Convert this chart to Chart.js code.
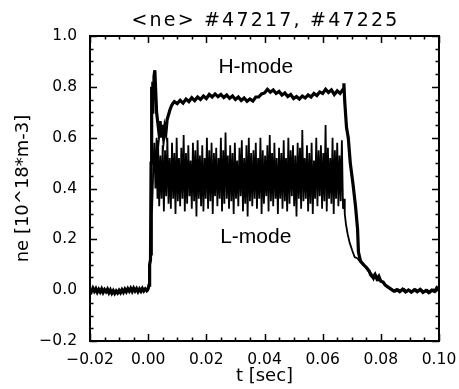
<!DOCTYPE html>
<html><head><meta charset="utf-8">
<script src="https://cdn.jsdelivr.net/npm/chart.js@4.4.0/dist/chart.umd.min.js"></script>
<style>html,body{margin:0;padding:0;background:#fff;}canvas{display:block;}</style>
</head><body>
<canvas id="c" width="459" height="389"></canvas>
<script>
const chartTitle = '<ne> #47217, #47225';
const xAxisTitle = 't [sec]';
const yAxisTitle = 'ne [10^18*m-3]';
const seriesNames = ['H-mode', 'L-mode'];
const xTickValues = [-0.02, 0.00, 0.02, 0.04, 0.06, 0.08, 0.10];
const xTickLabels = ['\u22120.02', '0.00', '0.02', '0.04', '0.06', '0.08', '0.10'];
const yTickValues = [-0.2, 0.0, 0.2, 0.4, 0.6, 0.8, 1.0];
const yTickLabels = ['\u22120.2', '0.0', '0.2', '0.4', '0.6', '0.8', '1.0'];
const xMinorStep = 0.005;
const yMinorStep = 0.05;

// H-mode shot: time in ms, density values
const hTimesMs = [
  -20,-19.5,-19,-18.5,-18,-17.5,-17,-16.5,-16,-15.5,-15,-14.5,-14,-13.5,-13,-12.5,-12,-11.5,-11,-10.5,
  -10,-9.5,-9,-8.5,-8,-7.5,-7,-6.5,-6,-5.5,-5,-4.5,-4,-3.5,-3,-2.5,-2,-1.5,-1,-0.5,0,
  0.3,0.5,0.8,1.0,1.2,1.4,1.6,1.8,2.0,2.3,2.6,2.9,3.3,3.7,4.1,4.5,4.9,5.3,5.7,6.1,6.5,7.0,7.5,8.0,8.5,
  9,10,11,12,13,14,15,16,17,18,19,20,21,22,23,24,25,26,27,28,29,30,31,32,33,34,35,36,37,38,
  39,40,41,42,43,44,45,46,47,48,49,50,51,52,53,54,55,56,57,58,59,60,61,62,63,64,65,66,67,
  67.3,67.6,68.2,68.8,69.5,70.4,71.3,72.0,72.3,73.0,
  74,75,76,76.5,77.3,78,78.6,79.3,80,80.8,81.5,82.5,83.5,84.5,85.5,86.5,87.5,88.5,89.5,90.5,
  91.5,92.5,93.5,94.5,95.5,96.5,97.5,98.5,99.3,100
];
const hValues = [
  0.004,-0.006,0.008,-0.004,0.006,-0.008,0.003,-0.007,0.005,-0.009,0.002,-0.006,0.004,-0.010,0.001,-0.012,-0.002,-0.013,-0.003,-0.011,
  -0.001,-0.010,0.002,-0.008,0.004,-0.006,0.006,-0.004,0.007,-0.005,0.008,-0.003,0.006,-0.006,0.005,-0.004,0.007,-0.003,0.005,-0.002,0.006,
  0.02,0.10,0.12,0.50,0.80,0.70,0.82,0.76,0.84,0.865,0.78,0.70,0.66,0.62,0.665,0.60,0.65,0.60,0.64,0.62,0.67,0.69,0.71,0.725,0.735,
  0.742,0.734,0.747,0.736,0.752,0.742,0.757,0.746,0.760,0.750,0.764,0.754,0.770,0.760,0.772,0.761,0.770,0.758,0.768,0.755,0.764,0.750,0.760,0.746,0.756,0.743,0.752,0.744,0.760,0.760,
  0.772,0.776,0.790,0.779,0.788,0.774,0.782,0.768,0.776,0.762,0.770,0.754,0.762,0.752,0.764,0.756,0.768,0.760,0.774,0.766,0.780,0.774,0.790,0.778,0.788,0.770,0.784,0.774,0.790,
  0.814,0.74,0.64,0.60,0.50,0.42,0.33,0.24,0.15,0.115,
  0.100,0.090,0.075,0.060,0.050,0.062,0.045,0.055,0.035,0.032,0.020,0.012,0.004,-0.004,0.002,-0.006,0.004,-0.007,0.001,-0.008,
  0.002,-0.006,0.003,-0.009,-0.001,-0.010,0.000,-0.005,0.010,0.004
];

// L-mode shot: time in ms, density values
const lTimesMs = [
  -20,-19,-18,-17,-16,-15,-14,-13,-12,-11,-10,-9,-8,-7,-6,-5,-4,-3,-2,-1,0,
  0.3,0.6,1.0,1.3,1.7,2.1,2.5,2.9,3.2,
  3.4,3.8,4.2,4.6,5.0,5.4,5.8,6.2,6.6,7.0,
  7.4,7.8,8.2,8.6,9.0,9.4,9.8,10.2,10.6,11.0,
  11.4,11.8,12.2,12.6,13.0,13.4,13.8,14.2,14.6,15.0,
  15.4,15.8,16.2,16.6,17.0,17.4,17.8,18.2,18.6,19.0,
  19.4,19.8,20.2,20.6,21.0,21.4,21.8,22.2,22.6,23.0,
  23.4,23.8,24.2,24.6,25.0,25.4,25.8,26.2,26.6,27.0,
  27.4,27.8,28.2,28.6,29.0,29.4,29.8,30.2,30.6,31.0,
  31.4,31.8,32.2,32.6,33.0,33.4,33.8,34.2,34.6,35.0,
  35.4,35.8,36.2,36.6,37.0,37.4,37.8,38.2,38.6,39.0,
  39.4,39.8,40.2,40.6,41.0,41.4,41.8,42.2,42.6,43.0,
  43.4,43.8,44.2,44.6,45.0,45.4,45.8,46.2,46.6,47.0,
  47.4,47.8,48.2,48.6,49.0,49.4,49.8,50.2,50.6,51.0,
  51.4,51.8,52.2,52.6,53.0,53.4,53.8,54.2,54.6,55.0,
  55.4,55.8,56.2,56.6,57.0,57.4,57.8,58.2,58.6,59.0,
  59.4,59.8,60.2,60.6,61.0,61.4,61.8,62.2,62.6,63.0,
  63.4,63.8,64.2,64.6,65.0,65.4,65.8,66.2,66.6,67.0,
  67.4,67.6,68.0,68.6,69.3,70.2,71,72,73,74,75,76,76.8,77.5,78.2,79,79.8,80.8,81.8,83,
  84,85,86,87,88,89,90,91,92,93,94,95,96,97,98,99,100
];
const lValues = [
  -0.003,0.006,-0.006,0.004,-0.008,0.003,-0.009,-0.002,-0.012,-0.004,-0.010,-0.001,-0.007,0.003,-0.005,0.005,-0.004,0.006,-0.003,0.004,0.000,
  0.03,0.10,0.14,0.30,0.45,0.58,0.40,0.60,0.36,
  0.59,0.33,0.53,0.36,0.57,0.31,0.55,0.37,0.60,0.34,
  0.52,0.32,0.58,0.36,0.54,0.30,0.60,0.35,0.52,0.33,
  0.56,0.36,0.61,0.31,0.54,0.34,0.57,0.37,0.51,0.32,
  0.58,0.35,0.55,0.29,0.59,0.36,0.53,0.33,0.57,0.31,
  0.52,0.36,0.60,0.32,0.55,0.35,0.58,0.30,0.54,0.37,
  0.56,0.33,0.52,0.36,0.60,0.31,0.55,0.34,0.62,0.36,
  0.53,0.32,0.57,0.35,0.54,0.30,0.58,0.36,0.51,0.33,
  0.56,0.37,0.59,0.31,0.52,0.34,0.57,0.29,0.60,0.35,
  0.54,0.33,0.55,0.36,0.58,0.32,0.52,0.36,0.60,0.30,
  0.55,0.34,0.53,0.37,0.57,0.31,0.61,0.35,0.54,0.33,
  0.58,0.36,0.52,0.30,0.56,0.36,0.54,0.32,0.59,0.35,
  0.52,0.31,0.60,0.34,0.55,0.37,0.57,0.33,0.53,0.29,
  0.58,0.36,0.56,0.32,0.63,0.35,0.52,0.36,0.57,0.31,
  0.54,0.34,0.58,0.30,0.51,0.36,0.60,0.33,0.55,0.37,
  0.57,0.32,0.54,0.35,0.65,0.31,0.56,0.36,0.52,0.34,
  0.60,0.30,0.55,0.36,0.58,0.33,0.53,0.35,0.59,0.32,
  0.36,0.30,0.26,0.22,0.186,0.155,0.13,0.125,0.11,0.105,0.085,0.07,0.065,0.042,0.058,0.038,0.04,0.028,0.018,0.008,
  0.000,-0.006,0.003,-0.004,0.005,-0.006,0.000,-0.007,0.004,-0.005,0.002,-0.008,0.001,-0.009,0.003,-0.004,0.012
];

// anchors (data units) for the in-plot mode labels
const modeLabelAnchors = [[0.037, 0.876], [0.037, 0.209]];

const toPoints = (ts, vs) => ts.map((t, i) => ({ x: t / 1000, y: vs[i] }));

const framePlugin = {
  id: 'frame',
  afterDraw(chart) {
    const { ctx, chartArea: a, scales: { x, y } } = chart;
    ctx.save();
    ctx.strokeStyle = '#000';
    ctx.lineWidth = 1.5;
    ctx.beginPath();
    for (let v = x.min; v <= x.max + 1e-9; v += xMinorStep) {
      const px = Math.round(x.getPixelForValue(v)) + 0.5;
      const major = xTickValues.some(t => Math.abs(t - v) < 1e-6);
      const len = major ? 7 : 3.5;
      ctx.moveTo(px, a.bottom); ctx.lineTo(px, a.bottom - len);
      ctx.moveTo(px, a.top); ctx.lineTo(px, a.top + len);
    }
    for (let v = y.min; v <= y.max + 1e-9; v += yMinorStep) {
      const py = Math.round(y.getPixelForValue(v)) + 0.5;
      const major = yTickValues.some(t => Math.abs(t - v) < 1e-6);
      const len = major ? 7 : 3.5;
      ctx.moveTo(a.left, py); ctx.lineTo(a.left + len, py);
      ctx.moveTo(a.right, py); ctx.lineTo(a.right - len, py);
    }
    ctx.stroke();
    ctx.lineWidth = 2;
    ctx.strokeRect(a.left, a.top, a.right - a.left, a.bottom - a.top);

    ctx.fillStyle = '#000';
    ctx.textAlign = 'center';
    ctx.textBaseline = 'middle';
    ctx.font = '21px "Liberation Sans", Arial, sans-serif';
    seriesNames.forEach((name, i) => {
      const [tx, ty] = modeLabelAnchors[i];
      ctx.fillText(name, x.getPixelForValue(tx), y.getPixelForValue(ty));
    });

    ctx.font = '19px "DejaVu Sans", sans-serif';
    if ('letterSpacing' in ctx) ctx.letterSpacing = '2.2px';
    ctx.fillText(chartTitle, (a.left + a.right) / 2 + 1, 21);
    ctx.restore();
  }
};

const tickFont = { family: 'DejaVu Sans', size: 15.5, weight: 'normal' };
const titleFont = { family: 'DejaVu Sans', size: 18, weight: 'normal' };

new Chart(document.getElementById('c'), {
  type: 'line',
  data: {
    datasets: [
      { label: seriesNames[1], data: toPoints(lTimesMs, lValues), borderColor: '#000', borderWidth: 1.8, pointRadius: 0, tension: 0, fill: false },
      { label: seriesNames[0], data: toPoints(hTimesMs, hValues), borderColor: '#000', borderWidth: 3.2, pointRadius: 0, tension: 0, fill: false }
    ]
  },
  options: {
    responsive: false,
    animation: false,
    devicePixelRatio: 1,
    layout: { padding: { top: 36, right: 20, left: 0, bottom: 0 } },
    plugins: { legend: { display: false }, tooltip: { enabled: false }, title: { display: false } },
    scales: {
      x: {
        type: 'linear', min: -0.02, max: 0.10,
        afterBuildTicks: s => { s.ticks = xTickValues.map(v => ({ value: v })); },
        afterFit: s => { s.height = 48; },
        grid: { display: false }, border: { display: false },
        ticks: { callback: (v, i) => xTickLabels[i], font: tickFont, color: '#000', padding: 2, maxRotation: 0, autoSkip: false },
        title: { display: true, text: xAxisTitle, font: titleFont, color: '#000', padding: { top: 0, bottom: 2 } }
      },
      y: {
        type: 'linear', min: -0.2, max: 1.0,
        afterBuildTicks: s => { s.ticks = yTickValues.map(v => ({ value: v })); },
        afterFit: s => { s.width = 90; },
        grid: { display: false }, border: { display: false },
        ticks: { callback: (v, i) => yTickLabels[i], font: tickFont, color: '#000', padding: 5, autoSkip: false },
        title: { display: true, text: yAxisTitle, font: titleFont, color: '#000', padding: { top: 13, bottom: 0 } }
      }
    }
  },
  plugins: [framePlugin]
});
</script>
</body></html>
